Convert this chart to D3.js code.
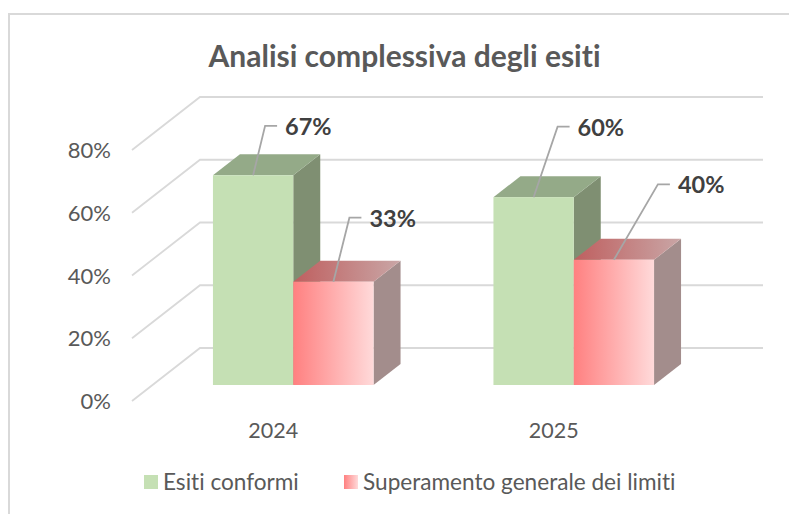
<!doctype html>
<html>
<head>
<meta charset="utf-8">
<title>Analisi complessiva degli esiti</title>
<script src="https://cdn.jsdelivr.net/npm/d3@7"></script>
<style>
    html, body { margin: 0; background: #fff; }
    svg { display: block; }
    text { font-family: Lato, "Open Sans", sans-serif; font-variant-ligatures: none; }
</style>
</head>
<body>
<svg width="789" height="514"></svg>
<script>
    var years = ["2024", "2025"];
    var seriesNames = ["Esiti conformi", "Superamento generale dei limiti"];
    var conformi = [67, 60];
    var superamento = [33, 40];
    var yTicks = [0, 20, 40, 60, 80];
    // leader line elbow, relative to the top of each bar
    var leaderDx = [[12, 16], [24, 44]];
    var leaderDy = [[-49.5, -64], [-70.5, -75.5]];

    var svg = d3.select("svg");

    // 3d box depth and wall offsets
    var depthX = 27, depthY = -21;
    var wallX = 68, wallY = -53;
    var gridRight = 763;

    var x = d3.scaleBand().domain(years).range([153, 714]);
    var barW = 80.3;
    var y = d3.scaleLinear().domain([0, 80]).range([385, 134.6]);
    var yGrid = d3.scaleLinear().domain([0, 80]).range([401, 150]);
    var line = d3.line();

    var defs = svg.append("defs");
    function grad(id, x2, y2, stops) {
        var g = defs.append("linearGradient").attr("id", id)
            .attr("x1", 0).attr("y1", 0).attr("x2", x2).attr("y2", y2);
        stops.forEach(function (s, i) {
            g.append("stop").attr("offset", i / (stops.length - 1)).attr("stop-color", s);
        });
    }
    grad("redFront", 1, 0, ["#ff8080", "#ffdada"]);
    grad("redTop", 1, 0, ["#bf5f5f", "#c9a6a6"]);

    // chart frame
    svg.append("path")
        .attr("d", "M9,514V14H789")
        .attr("fill", "none")
        .attr("stroke", "#d9d9d9")
        .attr("stroke-width", 2);

    // title
    svg.append("text")
        .attr("x", 404.5).attr("y", 67)
        .attr("text-anchor", "middle")
        .attr("font-size", 30).attr("font-weight", 700)
        .attr("fill", "#595959")
        .text("Analisi complessiva degli esiti");

    // gridlines: side wall then back wall
    svg.append("g").selectAll("path")
        .data(yTicks)
        .enter().append("path")
        .attr("fill", "none")
        .attr("stroke", "#d9d9d9")
        .attr("stroke-width", 1.8)
        .attr("d", function (d) {
            var p = yGrid(d);
            return line([[132, p], [132 + wallX, p + wallY], [gridRight, p + wallY]]);
        });

    // y labels
    svg.append("g").selectAll("text")
        .data(yTicks)
        .enter().append("text")
        .attr("x", 111).attr("y", function (d) { return yGrid(d) + 8; })
        .attr("text-anchor", "end")
        .attr("font-size", 22).attr("fill", "#595959")
        .text(function (d) { return d + "%"; });

    // x labels
    svg.append("g").selectAll("text")
        .data(years)
        .enter().append("text")
        .attr("x", function (d) { return x(d) + x.bandwidth() / 2 - 20; })
        .attr("y", 438)
        .attr("text-anchor", "middle")
        .attr("font-size", 21.5).attr("fill", "#595959")
        .text(function (d) { return d; });

    function drawBox(g, left, value, front, top, side) {
        var t = y(value), b = y(0), r = left + barW;
        g.append("path").attr("fill", side)
            .attr("d", line([[r, t], [r + depthX, t + depthY], [r + depthX, b + depthY], [r, b]]) + "Z");
        g.append("path").attr("fill", top)
            .attr("d", line([[left, t], [left + depthX, t + depthY], [r + depthX, t + depthY], [r, t]]) + "Z");
        g.append("rect").attr("x", left).attr("y", t)
            .attr("width", barW).attr("height", b - t)
            .attr("fill", front);
    }

    years.forEach(function (yr, i) {
        var c = x(yr) + x.bandwidth() / 2;
        var g = svg.append("g");
        drawBox(g, c - barW, conformi[i], "#c5e0b4", "#94aa88", "#7f8f72");
        drawBox(g, c, superamento[i], "url(#redFront)", "url(#redTop)", "#a38d8c");
    });

    // data labels with leader lines
    years.forEach(function (yr, i) {
        var c = x(yr) + x.bandwidth() / 2;
        [conformi[i], superamento[i]].forEach(function (v, j) {
            var px = c - barW + j * barW + barW / 2, py = y(v);
            var ex = px + leaderDx[i][j], ey = py + leaderDy[i][j];
            svg.append("path")
                .attr("d", line([[px, py], [ex, ey], [ex + 12, ey]]))
                .attr("fill", "none").attr("stroke", "#a6a6a6").attr("stroke-width", 1.8);
            svg.append("text")
                .attr("x", ex + 20).attr("y", ey + 9)
                .attr("font-size", 23.5).attr("font-weight", 700)
                .attr("fill", "#404040")
                .text(v + "%");
        });
    });

    // legend
    var legendX = [144, 344];
    var legendFill = ["#c5e0b4", "url(#redFront)"];
    var legend = svg.append("g").selectAll("g")
        .data(seriesNames)
        .enter().append("g");
    legend.append("rect")
        .attr("x", function (d, i) { return legendX[i]; })
        .attr("y", 475).attr("width", 14).attr("height", 14)
        .attr("fill", function (d, i) { return legendFill[i]; });
    legend.append("text")
        .attr("x", function (d, i) { return legendX[i] + 19; })
        .attr("y", 490)
        .attr("font-size", 22.6).attr("fill", "#595959")
        .text(function (d) { return d; });
</script>
</body>
</html>
